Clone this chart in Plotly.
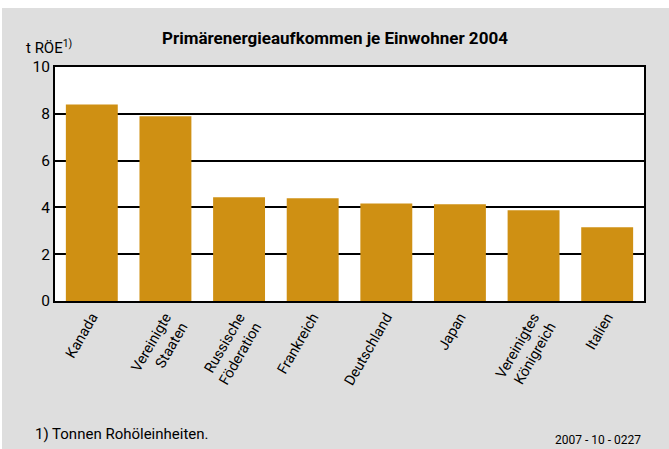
import plotly.graph_objects as go

categories = ["Kanada", "Vereinigte<br>Staaten", "Russische<br>Föderation", "Frankreich",
              "Deutschland", "Japan", "Vereinigtes<br>Königreich", "Italien"]
values = [8.4, 7.9, 4.43, 4.39, 4.17, 4.13, 3.88, 3.15]
y_ticks = [0, 2, 4, 6, 8, 10]

W, H = 669, 449
L, R, T, B = 55, 25, 67, 148
pw, ph = W - L - R, H - T - B

def px(x):
    return (x - L) / pw

def py(y):
    return (H - B - y) / ph

FONT = "Roboto, Arial, sans-serif"
BG = "#dedede"

fig = go.Figure(go.Bar(x=categories, y=values, marker=dict(color="#cf9013", line=dict(width=0)),
                       width=0.705))

fig.update_layout(
    width=W, height=H,
    margin=dict(l=L, r=R, t=T, b=B),
    paper_bgcolor=BG, plot_bgcolor="white",
    showlegend=False,
    font=dict(family=FONT, size=15, color="black"),
    bargap=0.3,
)
fig.update_xaxes(showline=True, linecolor="black", linewidth=2, mirror=True,
                 tickangle=-60, ticks="", tickfont=dict(size=14.5), showgrid=False)
fig.update_yaxes(range=[0, 10], tickvals=y_ticks, showline=True, linecolor="black",
                 linewidth=2, mirror=True, showgrid=True, gridcolor="black", gridwidth=1.5,
                 zeroline=False, ticks="", tickfont=dict(size=15.5))

shapes = [
    dict(type="rect", xref="paper", yref="paper", x0=px(-2), x1=px(W + 2), y0=py(8), y1=py(-2),
         fillcolor="white", line=dict(width=0), layer="above"),
    dict(type="rect", xref="paper", yref="paper", x0=px(-2), x1=px(2), y0=py(H + 2), y1=py(-2),
         fillcolor="white", line=dict(width=0), layer="above"),
]
fig.update_layout(shapes=shapes)

annotations = [
    dict(text="<b>Primärenergieaufkommen je Einwohner 2004</b>", x=px(335), y=py(38),
         xref="paper", yref="paper", showarrow=False, xanchor="center", yanchor="middle",
         font=dict(size=17)),
    dict(text="t RÖE<sup>1)</sup>", x=px(24), y=py(47), xref="paper", yref="paper",
         showarrow=False, xanchor="left", yanchor="middle", font=dict(size=15)),
    dict(text="1) Tonnen Rohöleinheiten.", x=px(33), y=py(434), xref="paper", yref="paper",
         showarrow=False, xanchor="left", yanchor="middle", font=dict(size=15)),
    dict(text="2007 - 10 - 0227", x=px(643), y=py(440), xref="paper", yref="paper",
         showarrow=False, xanchor="right", yanchor="middle", font=dict(size=12)),
]
fig.update_layout(annotations=annotations)

fig.write_html("out.html", config={"displayModeBar": False},
               post_script="document.body.style.margin='0';document.body.style.overflow='hidden';")
